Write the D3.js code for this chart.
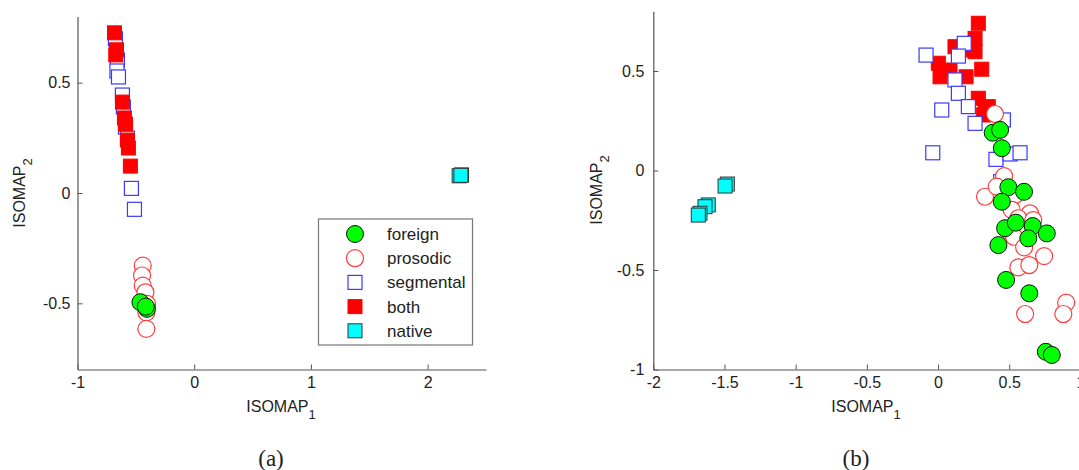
<!DOCTYPE html>
<html>
<head>
<meta charset="utf-8">
<script src="https://cdn.jsdelivr.net/npm/d3@7"></script>
<style>
  html, body { margin: 0; padding: 0; background: #fff; }
  svg { display: block; }
  text { font-family: "Liberation Sans", Arial, sans-serif; fill: #222; }
  .caption { font-family: "Liberation Serif", "Times New Roman", serif; }
</style>
</head>
<body>
<svg id="chart" width="1079" height="470"></svg>
<script>
// ---- Panel (a): ISOMAP embedding, [ISOMAP1, ISOMAP2] pairs ----
const foreignA = [[-0.461, -0.495], [-0.405, -0.525], [-0.415, -0.515]];
const prosodicA = [[-0.441, -0.329], [-0.447, -0.374], [-0.441, -0.420], [-0.418, -0.450],
                   [-0.404, -0.503], [-0.410, -0.541], [-0.410, -0.616]];
const segmentalA = [[-0.675, 0.699], [-0.658, 0.603], [-0.662, 0.553], [-0.649, 0.526],
                    [-0.615, 0.444], [-0.607, 0.390], [-0.589, 0.299], [-0.572, 0.249],
                    [-0.538, 0.021], [-0.512, -0.074]];
const bothA = [[-0.683, 0.726], [-0.666, 0.649], [-0.672, 0.626], [-0.615, 0.412],
               [-0.598, 0.340], [-0.589, 0.312], [-0.572, 0.240], [-0.564, 0.204],
               [-0.547, 0.122]];
const nativeA = [[2.27, 0.078], [2.29, 0.082], [2.285, 0.080]];

// ---- Panel (b) ----
const foreignB = [[0.384, 0.190], [0.436, 0.204], [0.448, 0.112], [0.494, -0.084],
                  [0.604, -0.107], [0.448, -0.157], [0.471, -0.290], [0.546, -0.262],
                  [0.665, -0.279], [0.764, -0.316], [0.634, -0.341], [0.424, -0.375],
                  [0.478, -0.550], [0.641, -0.617], [0.757, -0.911], [0.799, -0.927]];
const prosodicB = [[0.400, 0.284], [0.464, -0.028], [0.330, -0.132], [0.412, -0.081],
                   [0.541, -0.123], [0.518, -0.198], [0.646, -0.215], [0.564, -0.240],
                   [0.669, -0.249], [0.506, -0.308], [0.534, -0.333], [0.605, -0.386],
                   [0.745, -0.430], [0.564, -0.487], [0.641, -0.475], [0.612, -0.721],
                   [0.900, -0.664], [0.880, -0.721]];
const segmentalB = [[0.184, 0.639], [-0.084, 0.580], [0.143, 0.575], [0.119, 0.455],
                    [0.143, 0.388], [0.026, 0.304], [0.213, 0.321], [0.260, 0.237],
                    [0.459, 0.254], [-0.037, 0.089], [0.407, 0.056], [0.506, 0.083],
                    [0.576, 0.089], [0.440, -0.056]];
const bothB = [[0.283, 0.740], [0.260, 0.664], [0.119, 0.622], [0.237, 0.606],
               [0.260, 0.597], [0.002, 0.539], [0.014, 0.471], [0.084, 0.505],
               [0.197, 0.471], [0.307, 0.509], [0.283, 0.363], [0.353, 0.321],
               [0.318, 0.279], [0.330, 0.300]];
const nativeB = [[-1.480, -0.068], [-1.496, -0.078], [-1.614, -0.173], [-1.637, -0.182],
                 [-1.672, -0.215], [-1.684, -0.224]];

// ---- Axis tick values ----
const xTicksA = [-1, 0, 1, 2];
const yTicksA = [-0.5, 0, 0.5];
const xTicksB = [-2, -1.5, -1, -0.5, 0, 0.5, 1];
const yTicksB = [-1, -0.5, 0, 0.5];

const legendLabels = ["foreign", "prosodic", "segmental", "both", "native"];

// marker styles per group
const styles = {
  foreign:   { shape: "circle", fill: "#00ff00", stroke: "#111", sw: 1 },
  prosodic:  { shape: "circle", fill: "#ffffff", stroke: "#ff3b3b", sw: 1.2 },
  segmental: { shape: "square", fill: "#ffffff", stroke: "#3a3aff", sw: 1.2 },
  both:      { shape: "square", fill: "#ff0000", stroke: "#ff0000", sw: 1 },
  native:    { shape: "square", fill: "#00ffff", stroke: "#333", sw: 1 }
};
const R = 8.5, S = 14;

const svg = d3.select("#chart");
const fmt = d => String(d).replace("\u2212", "-");

function drawMarker(g, key, x, y) {
  const st = styles[key];
  if (st.shape === "circle") {
    g.append("circle").attr("cx", x).attr("cy", y).attr("r", R)
      .attr("fill", st.fill).attr("stroke", st.stroke).attr("stroke-width", st.sw);
  } else {
    g.append("rect").attr("x", x - S / 2).attr("y", y - S / 2)
      .attr("width", S).attr("height", S)
      .attr("fill", st.fill).attr("stroke", st.stroke).attr("stroke-width", st.sw);
  }
}

function panel(cfg) {
  const x = d3.scaleLinear().domain(cfg.xDomain).range(cfg.xRange);
  const y = d3.scaleLinear().domain(cfg.yDomain).range(cfg.yRange);
  const g = svg.append("g");

  // x and y axes, ticks pointing inward
  const xa = g.append("g").attr("transform", `translate(0,${cfg.yRange[0]})`)
    .call(d3.axisBottom(x).tickValues(cfg.xTicks).tickSize(-5).tickPadding(7).tickFormat(fmt).tickSizeOuter(0));
  const ya = g.append("g").attr("transform", `translate(${cfg.xRange[0]},0)`)
    .call(d3.axisLeft(y).tickValues(cfg.yTicks).tickSize(-5).tickPadding(cfg.yPad).tickFormat(fmt).tickSizeOuter(0));
  [xa, ya].forEach(a => {
    a.select(".domain").attr("stroke", "#555").attr("stroke-width", 1.2);
    a.selectAll(".tick line").attr("stroke", "#555");
    a.selectAll(".tick text").attr("font-size", 16).attr("fill", "#222")
      .style("font-family", "'Liberation Sans', Arial, sans-serif");
  });

  // axis titles with subscripts
  const xl = g.append("text").attr("x", cfg.xLabelX).attr("y", cfg.yRange[0] + 42)
    .attr("text-anchor", "middle").attr("font-size", 16);
  xl.append("tspan").text("ISOMAP");
  xl.append("tspan").attr("dy", 7).attr("font-size", 13).text("1");

  const yl = g.append("text")
    .attr("transform", `translate(${cfg.yLabelX},${cfg.yLabelY}) rotate(-90)`)
    .attr("text-anchor", "middle").attr("font-size", 16);
  yl.append("tspan").text("ISOMAP");
  yl.append("tspan").attr("dy", 7).attr("font-size", 13).text("2");

  // markers
  const mk = g.append("g");
  cfg.layers.forEach(([key, data]) => {
    data.forEach(d => drawMarker(mk, key, x(d[0]), y(d[1])));
  });

  // caption
  svg.append("text").attr("class", "caption").attr("x", cfg.captionX).attr("y", 466)
    .attr("text-anchor", "middle").attr("font-size", 23).text(cfg.caption);
  return g;
}

panel({
  xDomain: [-1, 2.5], xRange: [77.5, 486],
  yDomain: [-0.8, 0.8], yRange: [369.5, 16.5],
  xTicks: xTicksA, yTicks: yTicksA, yPad: 7,
  xLabelX: 281, yLabelX: 25, yLabelY: 193,
  caption: "(a)", captionX: 271,
  layers: [["segmental", segmentalA], ["both", bothA], ["prosodic", prosodicA],
           ["foreign", foreignA], ["native", nativeA]]
});

panel({
  xDomain: [-2, 1], xRange: [653.3, 1080.4],
  yDomain: [-1, 0.8], yRange: [369.5, 11.3],
  xTicks: xTicksB, yTicks: yTicksB, yPad: 9,
  xLabelX: 866, yLabelX: 602, yLabelY: 190,
  caption: "(b)", captionX: 856,
  layers: [["both", bothB], ["segmental", segmentalB], ["prosodic", prosodicB],
           ["foreign", foreignB], ["native", nativeB]]
});

// legend in panel (a)
const lg = svg.append("g");
lg.append("rect").attr("x", 318.5).attr("y", 219).attr("width", 154).attr("height", 126)
  .attr("fill", "#fff").attr("stroke", "#777").attr("stroke-width", 1.2);
legendLabels.forEach((name, i) => {
  const cy = 234 + i * 24.2;
  drawMarker(lg, name, 355, cy);
  lg.append("text").attr("x", 387).attr("y", cy).attr("dy", "0.35em")
    .attr("font-size", 17).text(name);
});
</script>
</body>
</html>
